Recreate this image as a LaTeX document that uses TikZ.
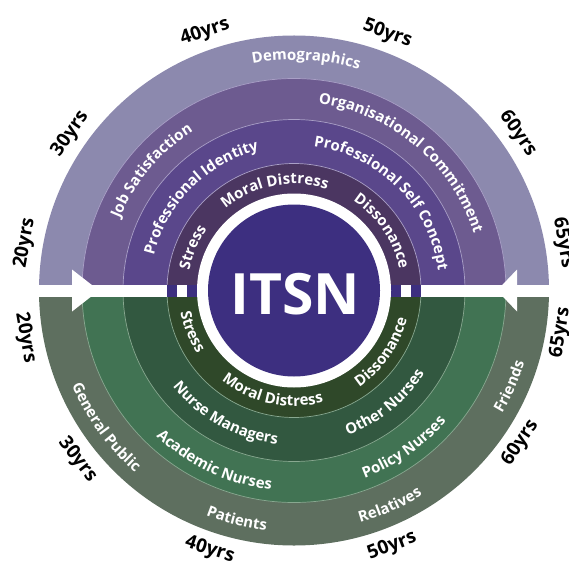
\documentclass[tikz,border=0pt]{standalone}
\usepackage{fontspec}
\setmainfont{Open Sans}
\usetikzlibrary{decorations.text}
\definecolor{pOut}{HTML}{8C89AE}
\definecolor{pRtwo}{HTML}{6D5B90}
\definecolor{pRthree}{HTML}{5A478B}
\definecolor{pDark}{HTML}{4B3661}
\definecolor{pCore}{HTML}{3D2F80}
\definecolor{gOut}{HTML}{5E6F5F}
\definecolor{gRtwo}{HTML}{417353}
\definecolor{gRthree}{HTML}{325840}
\definecolor{gDark}{HTML}{2F4829}
\definecolor{sepP}{HTML}{A99FC6}
\definecolor{sepG}{HTML}{88A890}
\newcommand{\lblfont}{\fontsize{15}{18}\selectfont\bfseries\color{white}}
\newcommand{\toplbl}[3]{%
  \path[decorate,decoration={text along path,text align=center,text={|\lblfont|#3}}]
    (C) ++(#1+60:#2-4.5) arc[start angle=#1+60,end angle=#1-60,radius=#2-4.5];}
\newcommand{\botlbl}[3]{%
  \path[decorate,decoration={text along path,text align=center,text={|\lblfont|#3}}]
    (C) ++(#1-60:#2+4.5) arc[start angle=#1-60,end angle=#1+60,radius=#2+4.5];}
\begin{document}
\begin{tikzpicture}[x=1pt,y=1pt,
  agelbl/.style={font=\fontsize{19}{22}\selectfont\bfseries,text=black,inner sep=0pt},
  sepline/.style={line width=0.7pt}]
\useasboundingbox (0,0) rectangle (569,563);
\clip (0,0) rectangle (569,563);
\coordinate (C) at (294,272.5);
% top half rings
\fill[pOut] (C) ++(255,0) arc[start angle=0,end angle=180,radius=255] -- cycle;
\fill[pRtwo] (C) ++(212,0) arc[start angle=0,end angle=180,radius=212] -- cycle;
\fill[pRthree] (C) ++(171,0) arc[start angle=0,end angle=180,radius=171] -- cycle;
\fill[pDark] (C) ++(127,0) arc[start angle=0,end angle=180,radius=127] -- cycle;
\draw[sepline,sepP] (C) ++(212,0) arc[start angle=0,end angle=180,radius=212];
\draw[sepline,sepP] (C) ++(171,0) arc[start angle=0,end angle=180,radius=171];
\draw[sepline,sepP] (C) ++(127,0) arc[start angle=0,end angle=180,radius=127];
% bottom half rings
\fill[gOut] (C) ++(-255,0) arc[start angle=180,end angle=360,radius=255] -- cycle;
\fill[gRtwo] (C) ++(-212,0) arc[start angle=180,end angle=360,radius=212] -- cycle;
\fill[gRthree] (C) ++(-171,0) arc[start angle=180,end angle=360,radius=171] -- cycle;
\fill[gDark] (C) ++(-127,0) arc[start angle=180,end angle=360,radius=127] -- cycle;
\draw[sepline,sepG] (C) ++(-212,0) arc[start angle=180,end angle=360,radius=212];
\draw[sepline,sepG] (C) ++(-171,0) arc[start angle=180,end angle=360,radius=171];
\draw[sepline,sepG] (C) ++(-127,0) arc[start angle=180,end angle=360,radius=127];
% white band and arrowheads
\fill[white] (C) ++(-256,-6) rectangle ++(512,12);
\fill[white] (C) ++(-222,21) -- ++(0,-42) -- ++(27,21) -- cycle;
\fill[white] (C) ++(223,21) -- ++(0,-42) -- ++(-20,21) -- cycle;
% small bars in the band
\fill[pCore] (C) ++(-127,-6) rectangle ++(10,12);
\fill[pCore] (C) ++(-107,-6) rectangle ++(10,12);
\fill[pCore] (C) ++(97,-6) rectangle ++(10,12);
\fill[pCore] (C) ++(117,-6) rectangle ++(10,12);
% core
\fill[white] (C) circle[radius=97];
\fill[pCore] (C) circle[radius=86];
\node[font=\fontsize{57}{60}\selectfont\bfseries,text=white,inner sep=0pt] (itsn) at ([shift={(1,-3.5)}]C) {ITSN};
% top labels
\toplbl{87}{235}{Demographics}
\toplbl{140}{193}{Job Satisfaction}
\toplbl{50}{193}{Organisational Commitment}
\toplbl{135}{149}{Professional Identity}
\toplbl{45}{150}{Professional Self Concept}
\toplbl{157}{111}{Stress}
\toplbl{101}{111}{Moral Distress}
\toplbl{34}{112}{Dissonance}
% bottom labels
\botlbl{202}{111}{Stress}
\botlbl{258}{111}{Moral Distress}
\botlbl{325}{112}{Dissonance}
\botlbl{241}{150}{Nurse Managers}
\botlbl{309}{150}{Other Nurses}
\botlbl{245}{196}{Academic Nurses}
\botlbl{305}{196}{Policy Nurses}
\botlbl{216}{237}{General Public}
\botlbl{256}{237}{Patients}
\botlbl{294}{237}{Relatives}
\botlbl{336}{237}{Friends}
% ages top
\path (C) ++(170:273) node[agelbl,rotate=80] (ta20) {20yrs};
\path (C) ++(145:273) node[agelbl,rotate=55] (ta30) {30yrs};
\path (C) ++(109:273) node[agelbl,rotate=19] (ta40) {40yrs};
\path (C) ++(70:273) node[agelbl,rotate=-20] (ta50) {50yrs};
\path (C) ++(35:273) node[agelbl,rotate=-55] (ta60) {60yrs};
\path (C) ++(10:273) node[agelbl,rotate=-80] (ta65) {65yrs};
% ages bottom
\path (C) ++(190:273) node[agelbl,rotate=-80] (ba20) {20yrs};
\path (C) ++(218:275) node[agelbl,rotate=-52] (ba30) {30yrs};
\path (C) ++(252:273) node[agelbl,rotate=-18] (ba40) {40yrs};
\path (C) ++(291:274) node[agelbl,rotate=21] (ba50) {50yrs};
\path (C) ++(326:273) node[agelbl,rotate=56] (ba60) {60yrs};
\path (C) ++(351:270) node[agelbl,rotate=81] (ba65) {65yrs};
\end{tikzpicture}
\end{document}
